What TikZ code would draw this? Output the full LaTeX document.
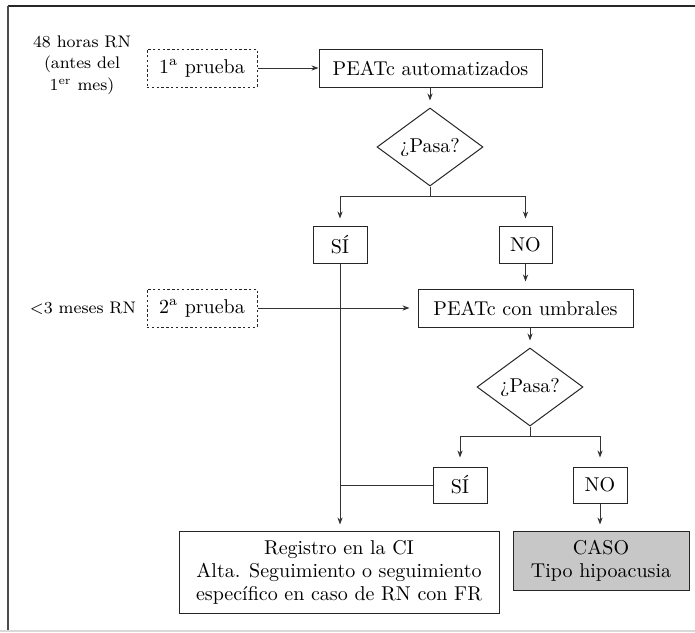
\documentclass[tikz,border=0pt]{standalone}
\usetikzlibrary{shapes.geometric,arrows.meta}
\begin{document}
\begin{tikzpicture}[x=0.5pt,y=-0.5pt,
  every node/.style={font=\fontsize{10}{11.5}\selectfont, inner sep=0pt, align=center},
  lab/.style={font=\fontsize{8.4}{10.8}\selectfont},
  box/.style={draw=black!85, line width=0.5pt, rectangle},
  dbox/.style={draw=black!85, line width=0.5pt, rectangle, dash pattern=on 1.2pt off 1.2pt},
  dec/.style={draw=black!85, line width=0.5pt, diamond, minimum width=53pt, minimum height=32pt},
  ln/.style={draw=black!80, line width=0.5pt},
  arr/.style={ln, -{Stealth[length=3.5pt,width=2.6pt]}}]
\useasboundingbox (0,0) rectangle (695,632);
% frame
\draw[black!85, line width=1pt] (8,6) -- (695,6);
\draw[black!70, line width=1pt] (8,6) -- (8,631);
\draw[black!15, line width=0.8pt] (0,631) -- (695,631);
% labels
\node[lab] (l1) at (82,65) {48 horas RN\\(antes del\\1\textsuperscript{er} mes)};
\node[lab] (l2) at (83,308) {<3 meses RN};
% nodes
\node[dbox, minimum width=55pt, minimum height=19pt] (p1) at (202,68) {1\textsuperscript{a} prueba};
\node[box, minimum width=111.5pt, minimum height=19pt] (a1) at (430.5,68) {PEATc automatizados};
\node[dec] (d1) at (430,147) {¿Pasa?};
\node[box, minimum width=27pt, minimum height=18.5pt] (s1) at (340,244.5) {SÍ};
\node[box, minimum width=26.5pt, minimum height=18.5pt] (n1) at (525.5,244.5) {NO};
\node[dbox, minimum width=55pt, minimum height=19pt] (p2) at (202,308) {2\textsuperscript{a} prueba};
\node[box, minimum width=107.5pt, minimum height=19pt] (a2) at (525.5,308) {PEATc con umbrales};
\node[dec] (d2) at (530,387) {¿Pasa?};
\node[box, minimum width=27pt, minimum height=18pt] (s2) at (460,485) {SÍ};
\node[box, minimum width=27pt, minimum height=18pt] (n2) at (600,485) {NO};
\node[box, minimum width=160pt, minimum height=41pt] (reg) at (339,572) {Registro en la CI\\Alta. Seguimiento o seguimiento\\específico en caso de RN con FR};
\node[box, fill=black!22, minimum width=88pt, minimum height=29.5pt] (caso) at (601,560.5) {CASO\\Tipo hipoacusia};
% connectors
\draw[arr] (p1) -- (a1);
\draw[arr] (a1.south -| d1.north) -- ([yshift=3.5pt]d1.north);
\coordinate (j1) at (430,196);
\draw[ln] (d1.south) -- (j1);
\draw[arr] (j1) -| ([yshift=3.5pt]n1.north);
\draw[arr] (j1) -| ([yshift=3.5pt]s1.north);
\draw[arr] (n1.south) -- ([yshift=3.5pt]a2.north -| n1.south);
\draw[arr] (p2) -- ([xshift=-4pt]a2.west);
\draw[arr] (a2.south -| d2.north) -- ([yshift=3.5pt]d2.north);
\coordinate (j2) at (530,436);
\draw[ln] (d2.south) -- (j2);
\draw[arr] (j2) -| ([yshift=4.5pt]s2.north);
\draw[arr] (j2) -| ([yshift=4.5pt]n2.north);
\coordinate (m2) at (340,485);
\draw[ln] (s2.west) -- (m2);
\draw[arr] (s1.south) -- ([yshift=3pt]reg.north -| s1.south);
\draw[arr] (n2.south) -- ([yshift=3pt]caso.north -| n2.south);
\end{tikzpicture}
\end{document}
